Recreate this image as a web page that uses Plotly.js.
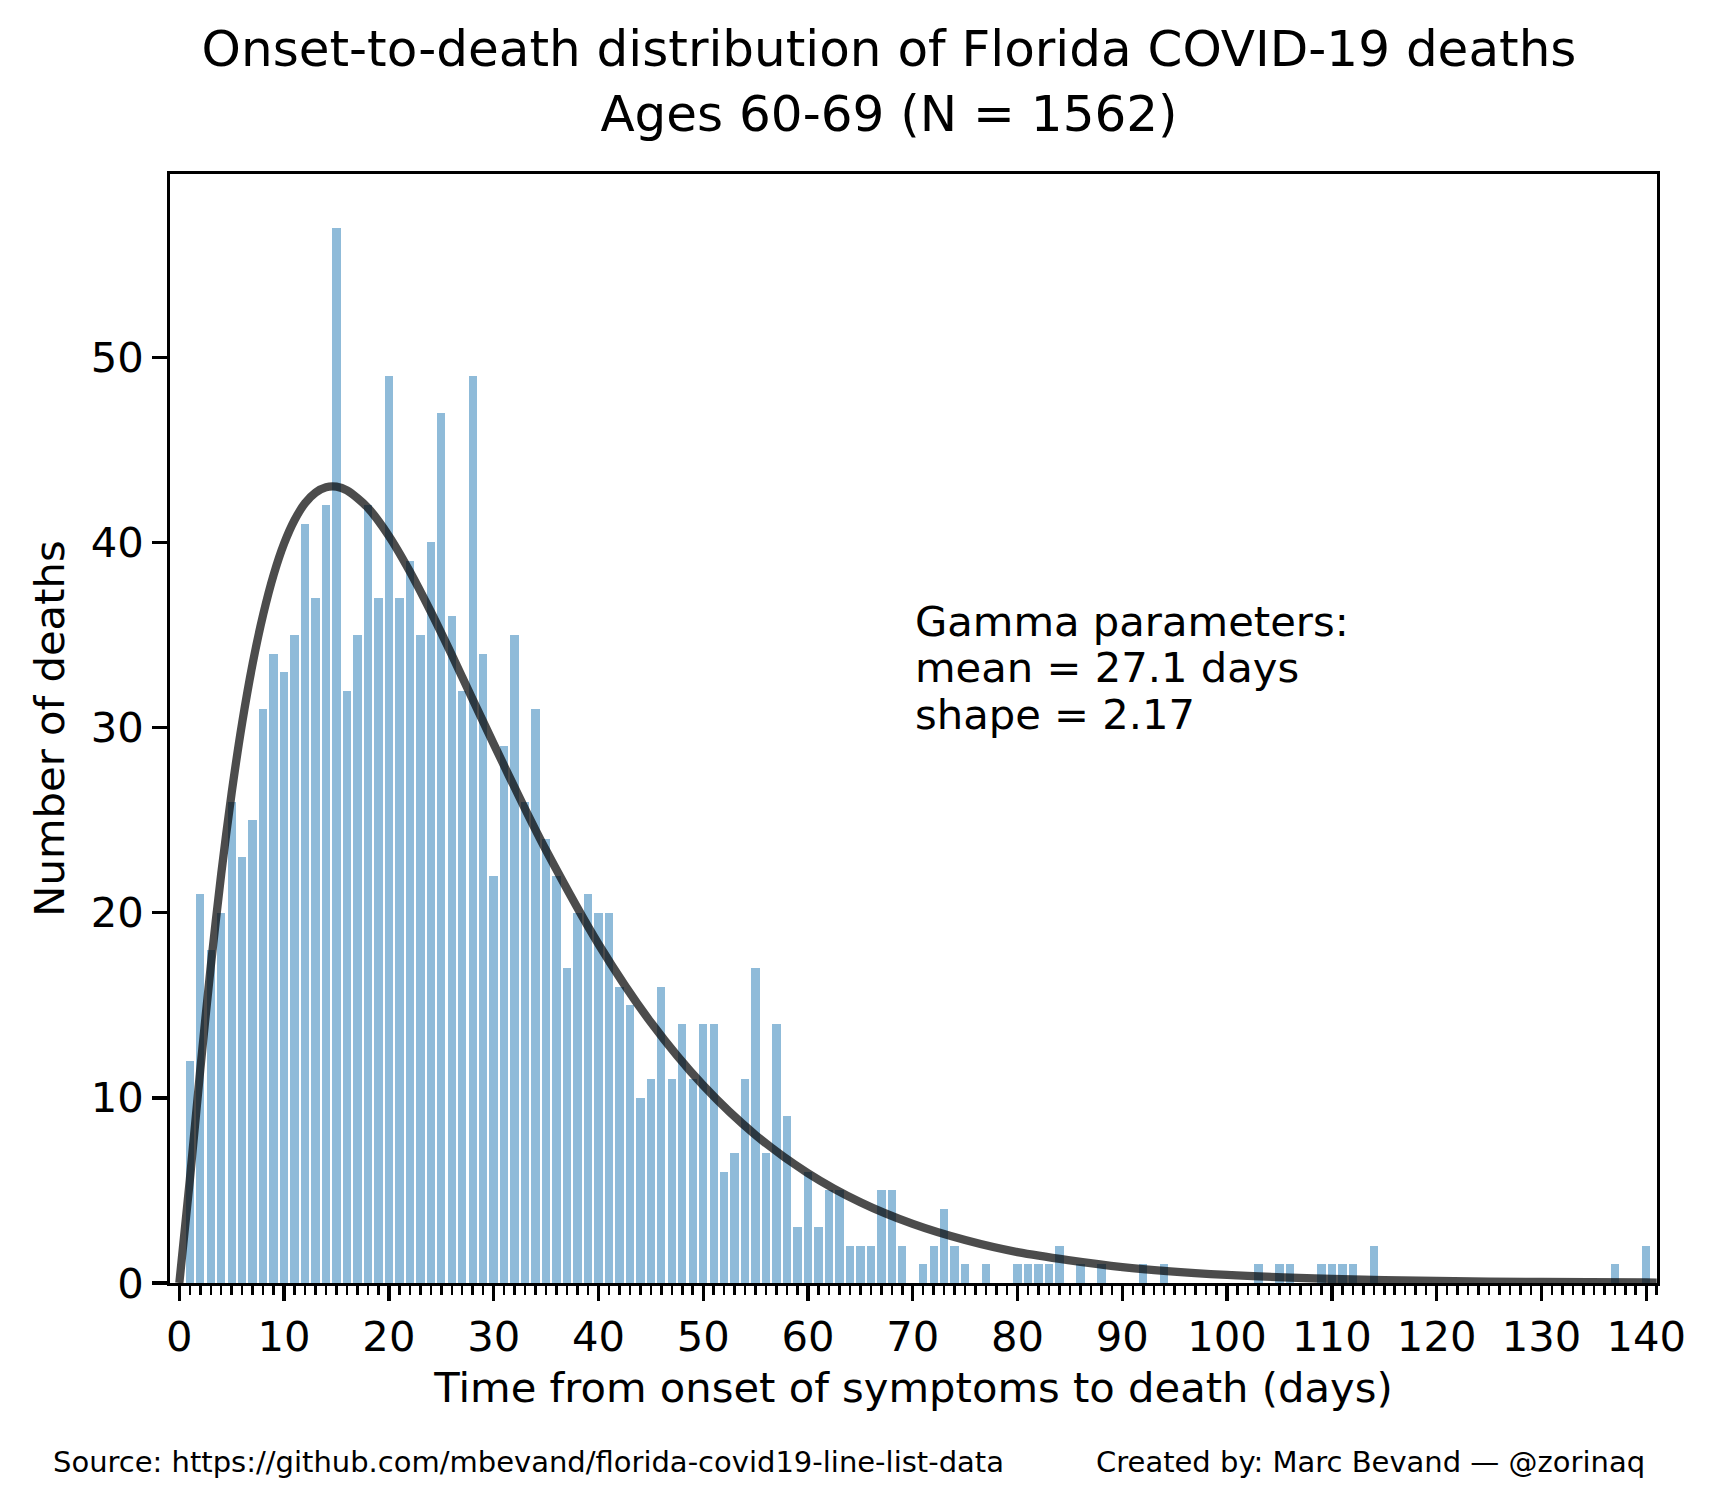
<!DOCTYPE html>
<html>
<head>
<meta charset="utf-8">
<script src="https://cdn.plot.ly/plotly-3.0.1.min.js"></script>
<style>
  html, body { margin: 0; padding: 0; background: #ffffff; }
  #chart { width: 1716px; height: 1507px; }
</style>
</head>
<body>
<div id="chart"></div>
<script>
// ---- Data ----
const chartTitle = "Onset-to-death distribution of Florida COVID-19 deaths<br>Ages 60-69 (N = 1562)";
const xAxisTitle = "Time from onset of symptoms to death (days)";
const yAxisTitle = "Number of deaths";

// Number of deaths for each day 1..140 after onset of symptoms
const days = [];
for (let d = 1; d <= 140; d++) days.push(d);
const deaths = [
  12, 21, 18, 20, 26, 23, 25, 31, 34, 33,   // 1-10
  35, 41, 37, 42, 57, 32, 35, 42, 37, 49,   // 11-20
  37, 39, 35, 40, 47, 36, 32, 49, 34, 22,   // 21-30
  29, 35, 26, 31, 24, 22, 17, 20, 21, 20,   // 31-40
  20, 16, 15, 10, 11, 16, 11, 14, 11, 14,   // 41-50
  14, 6, 7, 11, 17, 7, 14, 9, 3, 6,         // 51-60
  3, 5, 5, 2, 2, 2, 5, 5, 2, 0,             // 61-70
  1, 2, 4, 2, 1, 0, 1, 0, 0, 1,             // 71-80
  1, 1, 1, 2, 0, 1, 0, 1, 0, 0,             // 81-90
  0, 1, 0, 1, 0, 0, 0, 0, 0, 0,             // 91-100
  0, 0, 1, 0, 1, 1, 0, 0, 1, 1,             // 101-110
  1, 1, 0, 2, 0, 0, 0, 0, 0, 0,             // 111-120
  0, 0, 0, 0, 0, 0, 0, 0, 0, 0,             // 121-130
  0, 0, 0, 0, 0, 0, 1, 0, 0, 2              // 131-140
];

// Fitted gamma curve (scaled to deaths per day)
const curveX = [0, 1, 2, 3, 4, 5, 6, 7, 8, 9, 10, 11, 12, 13, 14, 15, 16, 18, 20, 22, 24, 26, 28, 30, 33, 35, 40, 45, 50, 55, 60, 65, 70, 75, 80, 90, 100, 110, 120, 130, 140, 141];
const curveY = [0, 5.55, 11.53, 17.10, 22.11, 26.49, 30.27, 33.46, 36.10, 38.25, 39.94, 41.21, 42.12, 42.69, 42.98, 43.01, 42.81, 41.87, 40.35, 38.43, 36.26, 33.93, 31.52, 29.12, 25.60, 23.37, 18.31, 14.08, 10.67, 7.99, 5.93, 4.36, 3.19, 2.32, 1.67, 0.863, 0.438, 0.220, 0.109, 0.054, 0.026, 0.025];

const xTickVals = [0, 10, 20, 30, 40, 50, 60, 70, 80, 90, 100, 110, 120, 130, 140];
const xTickText = ["0", "10", "20", "30", "40", "50", "60", "70", "80", "90", "100", "110", "120", "130", "140"];
const yTickVals = [0, 10, 20, 30, 40, 50];
const yTickText = ["0", "10", "20", "30", "40", "50"];

const gammaLines = ["Gamma parameters:", "mean = 27.1 days", "shape = 2.17"];
const gammaLineY = [35.0, 32.5, 30.0];
const gammaTextX = 70;

const sourceText = "Source: https://github.com/mbevand/florida-covid19-line-list-data";
const creditText = "Created by: Marc Bevand \u2014 @zorinaq";

// ---- Styling ----
const FONT = "DejaVu Sans, Verdana, sans-serif";
const W = 1716, H = 1507;
const plotL = 170, plotR = 1657, plotT = 174, plotB = 1283;
const px2paperX = p => (p - plotL) / (plotR - plotL);
const px2paperY = p => (plotB - p) / (plotB - plotT);

const traces = [
  {
    type: "bar",
    x: days,
    y: deaths,
    width: 0.8,
    marker: { color: "rgba(31,119,180,0.5)", line: { width: 0 } },
    hoverinfo: "x+y",
    showlegend: false
  },
  {
    type: "scatter",
    mode: "lines",
    x: curveX,
    y: curveY,
    line: { color: "rgba(0,0,0,0.7)", width: 8.3, shape: "spline", smoothing: 0.8 },
    hoverinfo: "skip",
    showlegend: false
  }
];

const annotations = [];
gammaLines.forEach((t, i) => {
  annotations.push({
    text: t, xref: "x", yref: "y", x: gammaTextX, y: gammaLineY[i],
    xanchor: "left", yanchor: "bottom", yshift: -13, showarrow: false,
    font: { family: FONT, size: 41.7, color: "#000000" }
  });
});
annotations.push({
  text: sourceText, xref: "paper", yref: "paper",
  x: px2paperX(51), y: px2paperY(1462), xanchor: "left", yanchor: "middle",
  showarrow: false, font: { family: FONT, size: 29, color: "#000000" }
});
annotations.push({
  text: creditText, xref: "paper", yref: "paper",
  x: px2paperX(1094), y: px2paperY(1462), xanchor: "left", yanchor: "middle",
  showarrow: false, font: { family: FONT, size: 29, color: "#000000" }
});

const axisCommon = {
  showline: true, linecolor: "#000000", linewidth: 3.3, mirror: true,
  showgrid: false, zeroline: false,
  ticks: "outside", ticklen: 14.6, tickwidth: 3.3, tickcolor: "#000000",
  tickfont: { family: FONT, size: 41.7, color: "#000000" },
  tickmode: "array"
};

const layout = {
  width: W, height: H,
  paper_bgcolor: "#ffffff", plot_bgcolor: "#ffffff",
  margin: { l: plotL, r: W - plotR, t: plotT, b: H - plotB, pad: 0 },
  font: { family: FONT, color: "#000000" },
  title: {
    text: chartTitle,
    font: { family: FONT, size: 50, color: "#000000" },
    xref: "container", yref: "container",
    x: 889 / W, xanchor: "center",
    y: 1 - 66 / H, yanchor: "top"
  },
  bargap: 0,
  xaxis: Object.assign({}, axisCommon, {
    range: [-0.89, 141.03],
    tickvals: xTickVals, ticktext: xTickText,
    minor: { tickmode: "linear", tick0: 0, dtick: 1, ticks: "outside", ticklen: 8.3, tickwidth: 2.5, tickcolor: "#000000", showgrid: false },
    title: { text: xAxisTitle, font: { family: FONT, size: 41.7, color: "#000000" }, standoff: 14 }
  }),
  yaxis: Object.assign({}, axisCommon, {
    range: [0, 59.9],
    tickvals: yTickVals, ticktext: yTickText,
    title: { text: yAxisTitle, font: { family: FONT, size: 41.7, color: "#000000" }, standoff: 14 }
  }),
  annotations: annotations,
  showlegend: false
};

Plotly.newPlot("chart", traces, layout, { displayModeBar: false, staticPlot: true });
</script>
</body>
</html>
